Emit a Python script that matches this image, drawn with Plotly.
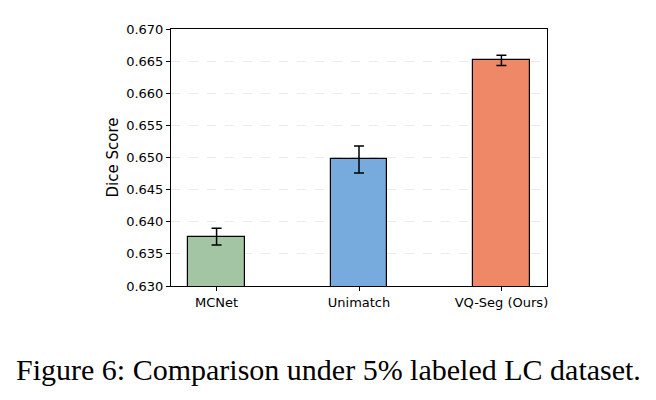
import plotly.graph_objects as go

methods = ["MCNet", "Unimatch", "VQ-Seg (Ours)"]
dice = [0.6377, 0.6497, 0.6651]
dice_err = [0.0013, 0.0021, 0.0008]
colors = ["#A3C5A3", "#77AADD", "#EE8866"]
y_ticks = [0.630, 0.635, 0.640, 0.645, 0.650, 0.655, 0.660, 0.665, 0.670]
caption = "Figure 6: Comparison under 5% labeled LC dataset."

fig = go.Figure()
fig.add_trace(go.Bar(
    x=[0, 1, 2],
    y=dice,
    width=0.4,
    marker=dict(color=colors, line=dict(color="black", width=1.2)),
    error_y=dict(type="data", array=dice_err, color="black", thickness=1.5, width=5),
))

L, R, T, B = 171, 109, 29, 114
plot_h = 400 - T - B

fig.update_layout(
    width=656, height=400,
    margin=dict(l=L, r=R, t=T, b=B),
    plot_bgcolor="white", paper_bgcolor="white",
    showlegend=False,
    font=dict(family="DejaVu Sans", size=13, color="black"),
    bargap=0,
    xaxis=dict(
        range=[-0.32, 2.32],
        tickmode="array", tickvals=[0, 1, 2], ticktext=methods,
        showline=True, linecolor="black", linewidth=1, mirror=True,
        ticks="outside", ticklen=4, tickcolor="black", tickwidth=1,
        showgrid=False, zeroline=False,
        tickfont=dict(family="DejaVu Sans", size=13, color="black"),
    ),
    yaxis=dict(
        range=[0.630, 0.670],
        tickmode="array", tickvals=y_ticks,
        ticktext=[f"{v:.3f}" for v in y_ticks],
        showline=True, linecolor="black", linewidth=1, mirror=True,
        ticks="outside", ticklen=4, tickcolor="black", tickwidth=1,
        showgrid=True, gridcolor="#ebebeb", griddash="dash", gridwidth=0.8,
        zeroline=False,
        title=dict(text="Dice Score", font=dict(family="DejaVu Sans", size=15, color="black"), standoff=3),
        tickfont=dict(family="DejaVu Sans", size=13, color="black"),
    ),
)

fig.add_annotation(
    text=caption, xref="paper", yref="paper",
    x=(328 - L) / (656 - L - R), y=-(369 - (400 - B)) / plot_h,
    xanchor="center", yanchor="middle", showarrow=False,
    font=dict(family="Liberation Serif", size=30, color="black"),
)

fig.write_html("out.html")
